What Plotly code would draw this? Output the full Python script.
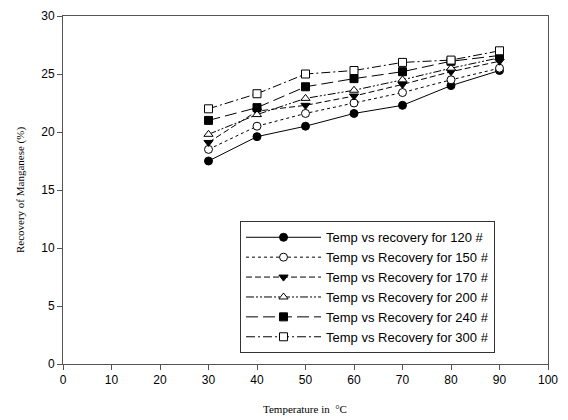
import plotly.graph_objects as go

temps = [30, 40, 50, 60, 70, 80, 90]
rec_120 = [17.5, 19.6, 20.5, 21.6, 22.3, 24.0, 25.3]
rec_150 = [18.5, 20.5, 21.6, 22.5, 23.4, 24.5, 25.5]
rec_170 = [19.1, 21.8, 22.3, 23.1, 24.1, 25.2, 26.1]
rec_200 = [19.8, 21.5, 22.9, 23.6, 24.5, 25.5, 26.4]
rec_240 = [21.0, 22.1, 23.9, 24.6, 25.2, 26.1, 26.6]
rec_300 = [22.0, 23.3, 25.0, 25.3, 26.0, 26.2, 27.0]

names = ["Temp vs recovery for 120 #", "Temp vs Recovery for 150 #",
         "Temp vs Recovery for 170 #", "Temp vs Recovery for 200 #",
         "Temp vs Recovery for 240 #", "Temp vs Recovery for 300 #"]
series = [rec_120, rec_150, rec_170, rec_200, rec_240, rec_300]
dashes = ["solid", "dot", "6px,3px", "8px,2px,2px,2px,2px,2px", "12px,5px", "9px,3px,2px,3px"]
symbols = ["circle", "circle-open", "triangle-down", "triangle-up-open", "square", "square-open"]

x_title = "Temperature in  °C"
y_title = "Recovery of Manganese (%)"

fig = go.Figure()
for n, s, d, sym in zip(names, series, dashes, symbols):
    open_ = sym.endswith("open")
    fig.add_trace(go.Scatter(
        x=temps, y=s, name=n, mode="lines+markers",
        line=dict(color="black", width=1, dash=d),
        marker=dict(symbol=sym.replace("-open", ""), size=8,
                    color="white" if open_ else "black",
                    line=dict(color="black", width=1)),
    ))

axis_common = dict(showline=True, linecolor="#555555", linewidth=1, mirror=True,
                   ticks="outside", ticklen=5, tickcolor="#555555", showgrid=False,
                   zeroline=False, automargin=False,
                   tickfont=dict(family="Liberation Sans, Arial", size=12, color="black"))

title_font = dict(family="Liberation Serif, Times New Roman", size=11, color="black")

fig.update_layout(
    width=560, height=412,
    margin=dict(l=55, r=19.5, t=7.5, b=55.5),
    plot_bgcolor="white", paper_bgcolor="white",
    xaxis=dict(range=[0, 100], tickvals=list(range(0, 101, 10)), **axis_common),
    yaxis=dict(range=[0, 30], tickvals=[0, 5, 10, 15, 20, 25, 30], **axis_common),
    legend=dict(x=0.365, y=0.41, xanchor="left", yanchor="top",
                bordercolor="#333333", borderwidth=1, bgcolor="white",
                itemwidth=75, tracegroupgap=0,
                font=dict(family="Liberation Sans, Arial", size=13, color="black")),
    showlegend=True,
    annotations=[
        dict(text=x_title, xref="paper", yref="paper", x=0.498, y=-0.130,
             xanchor="center", yanchor="middle", showarrow=False, font=title_font),
        dict(text=y_title, xref="paper", yref="paper", x=-0.0886, y=0.5,
             xanchor="center", yanchor="middle", textangle=-90, showarrow=False, font=title_font),
    ],
)

fig.write_html("out.html")
